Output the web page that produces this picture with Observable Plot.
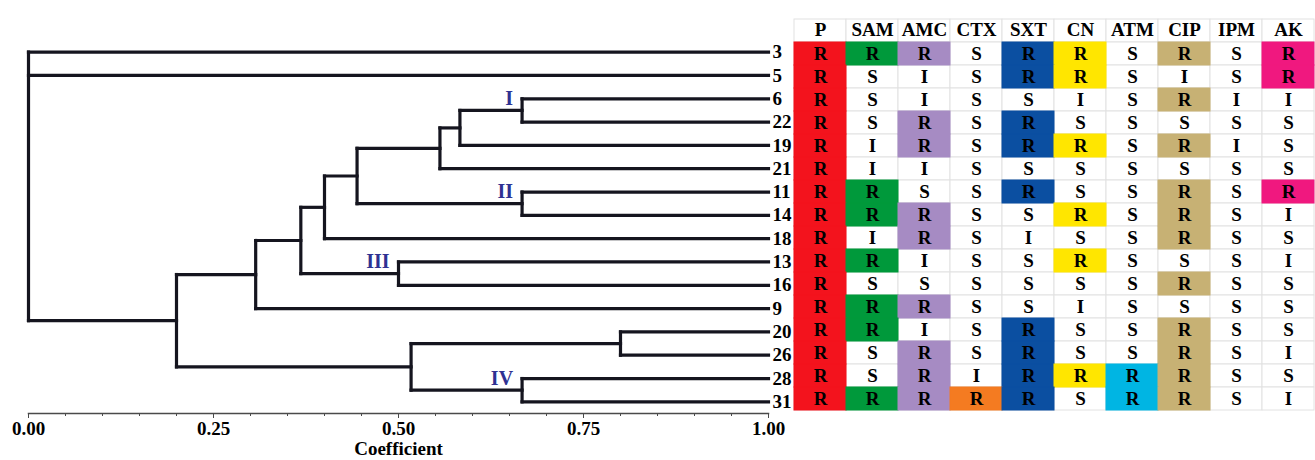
<!DOCTYPE html>
<html><head><meta charset="utf-8">
<script src="https://cdn.jsdelivr.net/npm/d3@7"></script>
<script src="https://cdn.jsdelivr.net/npm/@observablehq/plot@0.6"></script>
<style>
body{margin:0;background:#fff;}
#wrap{display:flex;width:1315px;height:460px;overflow:hidden;}
#wrap svg{display:block;}
</style></head><body><div id="wrap"></div>
<script>
// Isolates, top to bottom (leaf order of the dendrogram)
const isolates = ["3","5","6","22","19","21","11","14","18","13","16","9","20","26","28","31"];
// Antibiotics (table columns)
const antibiotics = ["P","SAM","AMC","CTX","SXT","CN","ATM","CIP","IPM","AK"];
// Column colours used for resistant (R) cells
const columnColors = ["#f3131d","#00993b","#a68bc3","#f47b21","#0b4fa1","#ffe600","#00b5e3","#c7b174",null,"#f0187f"];
// Resistance profile per isolate, one letter per antibiotic (same order as antibiotics)
const profiles = [
  "RRRSRRSRSR", // 3
  "RSISRRSISR", // 5
  "RSISSISRII", // 6
  "RSRSRSSSSS", // 22
  "RIRSRRSRIS", // 19
  "RIISSSSSSS", // 21
  "RRSSRSSRSR", // 11
  "RRRSSRSRSI", // 14
  "RIRSISSRSS", // 18
  "RRISSRSSSI", // 13
  "RSSSSSSRSS", // 16
  "RRRSSISSSS", // 9
  "RRISRSSRSS", // 20
  "RSRSRSSRSI", // 26
  "RSRIRRRRSS", // 28
  "RRRRRSRRSI"  // 31
];
// Dendrogram merges: [node id, children, coefficient]
const merges = [
  ["n1",  ["6","22"],        0.667],
  ["n2",  ["n1","19"],       0.583],
  ["n3",  ["n2","21"],       0.556],
  ["n4",  ["11","14"],       0.667],
  ["n5",  ["n3","n4"],       0.444],
  ["n6",  ["n5","18"],       0.400],
  ["n7",  ["13","16"],       0.500],
  ["n8",  ["n6","n7"],       0.368],
  ["n9",  ["n8","9"],        0.307],
  ["n10", ["20","26"],       0.800],
  ["n11", ["28","31"],       0.667],
  ["n12", ["n10","n11"],     0.517],
  ["n13", ["n9","n12"],      0.200],
  ["root",["3","5","n13"],   0.000]
];
// Cluster labels and the node they mark
const clusterNames = ["I","II","III","IV"];
const clusterNodes = ["n1","n4","n7","n11"];
const axisMajor = [0, 0.25, 0.5, 0.75, 1];
const axisMinor = d3.range(0, 1.0001, 0.05);

// ---- compute dendrogram geometry ----
const nodeY = new Map(), nodeH = new Map();
isolates.forEach((d, i) => { nodeY.set(d, i); nodeH.set(d, 1); });
const segments = [];
for (const [id, kids, h] of merges) {
  const ys = kids.map(k => nodeY.get(k));
  const y0 = d3.min(ys), y1 = d3.max(ys);
  nodeY.set(id, (y0 + y1) / 2); nodeH.set(id, h);
  segments.push({x1: h, x2: h, y1: y0, y2: y1});
  for (const k of kids) segments.push({x1: h, x2: nodeH.get(k), y1: nodeY.get(k), y2: nodeY.get(k)});
}
const clusterLabels = clusterNames.map((name, i) => {
  const kids = merges.find(m => m[0] === clusterNodes[i])[1];
  return {name, x: nodeH.get(clusterNodes[i]), y: d3.min(kids.map(k => nodeY.get(k)))};
});

const serif = "'Liberation Serif','Times New Roman',serif";

const dendro = Plot.plot({
  width: 793, height: 460,
  marginLeft: 28, marginRight: 25, marginTop: 40, marginBottom: 47,
  style: {background: "white", fontFamily: serif, color: "#000"},
  x: {domain: [0, 1]},
  y: {domain: [-0.5, 15.5], reverse: true, axis: null},
  marks: [
    Plot.frame({anchor: "bottom", stroke: "#4a4a4a", strokeWidth: 1.5}),
    Plot.axisX({ticks: axisMinor, tickSize: 3, tickFormat: () => "", label: null, stroke: "#4a4a4a"}),
    Plot.axisX({ticks: axisMajor, tickSize: 5, tickPadding: 3, tickFormat: d3.format(".2f"),
      fontSize: 19, fontWeight: "bold", stroke: "#4a4a4a", fill: "#000",
      label: "Coefficient", labelAnchor: "center", labelArrow: "none", labelOffset: 41}),
    Plot.link(segments, {x1: "x1", x2: "x2", y1: "y1", y2: "y2",
      stroke: "#15151f", strokeWidth: 3.2, strokeLinecap: "square"}),
    Plot.text(isolates, {y: (d, i) => i, text: d => d, frameAnchor: "right", textAnchor: "start",
      dx: 4, fontSize: 19, fontWeight: "bold", fill: "#000"}),
    Plot.text(clusterLabels, {x: "x", y: "y", text: "name", textAnchor: "end", dx: -9,
      fontSize: 20, fontWeight: "bold", fill: "#2e3192"})
  ]
});

// ---- table ----
const HDR = "__header__";
const cells = [];
isolates.forEach((iso, i) => antibiotics.forEach((ab, j) =>
  cells.push({iso, ab, v: profiles[i][j], color: columnColors[j]})));
const gridCells = [...antibiotics.map(ab => ({iso: HDR, ab})), ...cells];
const colored = cells.filter(d => d.v === "R" && d.color);

const table = Plot.plot({
  width: 522, height: 460,
  marginLeft: 0, marginRight: 0, marginTop: 16, marginBottom: 47,
  style: {background: "white", fontFamily: serif},
  x: {domain: antibiotics, axis: null, padding: 0},
  y: {domain: [HDR, ...isolates], axis: null, padding: 0},
  color: {type: "identity"},
  marks: [
    Plot.cell(gridCells, {x: "ab", y: "iso", fill: "white", stroke: "#e2e2e2", strokeWidth: 1}),
    Plot.cell(colored, {x: "ab", y: "iso", fill: "color", stroke: "color", strokeWidth: 1}),
    Plot.text(antibiotics, {x: d => d, y: () => HDR, text: d => d, fontSize: 19, fontWeight: "bold", fill: "#000", dy: -1}),
    Plot.text(cells, {x: "ab", y: "iso", text: "v", fontSize: 19, fontWeight: "bold", fill: "#000"})
  ]
});

const wrap = document.getElementById("wrap");
wrap.appendChild(dendro);
wrap.appendChild(table);
</script>
</body></html>
